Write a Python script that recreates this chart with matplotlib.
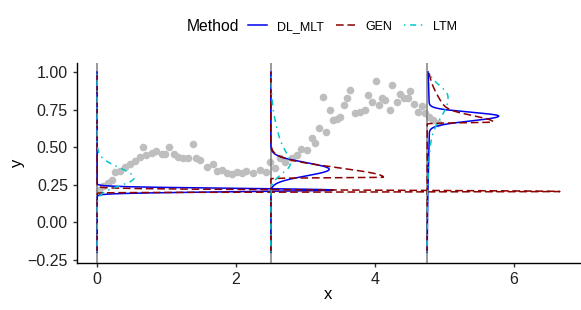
import numpy as np
import matplotlib
matplotlib.use("Agg")
import matplotlib.pyplot as plt
from matplotlib.lines import Line2D

plt.rcParams['font.family'] = ['Liberation Sans', 'DejaVu Sans']

x_pts = [0.02, 0.09, 0.16, 0.21, 0.26, 0.33, 0.40, 0.47, 0.55, 0.62, 0.66, 0.71,
         0.79, 0.85, 0.93, 0.98, 1.03, 1.10, 1.17, 1.24, 1.31, 1.38, 1.43, 1.48,
         1.58, 1.67, 1.72, 1.79, 1.87, 1.94, 2.01, 2.08, 2.14, 2.25, 2.35, 2.43,
         2.49, 2.56, 2.63, 2.70, 2.80, 2.87, 2.94, 3.02, 3.09, 3.14, 3.20, 3.25,
         3.30, 3.35, 3.40, 3.45, 3.50, 3.56, 3.59, 3.64, 3.71, 3.78, 3.85, 3.90,
         3.96, 4.01, 4.06, 4.10, 4.15, 4.22, 4.25, 4.31, 4.36, 4.41, 4.47, 4.51,
         4.56, 4.62, 4.67, 4.72, 4.77, 4.84, 4.90]
y_pts = [0.213, 0.240, 0.260, 0.285, 0.335, 0.340, 0.370, 0.390, 0.410, 0.435, 0.500, 0.447,
         0.462, 0.475, 0.453, 0.458, 0.500, 0.453, 0.435, 0.430, 0.430, 0.520, 0.425, 0.413,
         0.365, 0.387, 0.342, 0.351, 0.329, 0.320, 0.335, 0.325, 0.342, 0.325, 0.347, 0.335,
         0.400, 0.360, 0.425, 0.400, 0.425, 0.447, 0.490, 0.480, 0.560, 0.530, 0.625, 0.835,
         0.600, 0.750, 0.680, 0.685, 0.700, 0.780, 0.825, 0.880, 0.725, 0.735, 0.750, 0.847,
         0.800, 0.940, 0.780, 0.830, 0.813, 0.750, 0.913, 0.800, 0.853, 0.825, 0.825, 0.875,
         0.785, 0.735, 0.773, 0.725, 0.700, 0.680, 0.660]

# x positions where conditional densities are drawn
slice_x = [0.0, 2.5, 4.75]

methods = ['DL_MLT', 'GEN', 'LTM']

# density shapes per slice: (horizontal extent, centre, sd below, sd above)
dl_mlt_bumps = [
    [(3.40, 0.215, 0.011, 0.011)],
    [(0.84, 0.353, 0.044, 0.044)],
    [(1.00, 0.707, 0.032, 0.025), (0.03, 0.70, 0.35, 0.25)],
]
gen_bumps = [
    [(6.66, 0.205, 0.003, 0.009)],
    [(1.62, 0.300, 0.003, 0.062)],
    [(0.65, 0.667, 0.004, 0.040), (0.30, 0.667, 0.004, 0.150)],
]
ltm_bumps = [
    [(0.53, 0.295, 0.052, 0.068)],
    [(0.106, 0.39, 0.063, 0.070), (0.174, 0.39, 0.063, 0.200)],
    [(0.28, 0.84, 0.125, 0.072), (0.05, 0.70, 0.250, 0.100)],
]

colors = {'DL_MLT': '#0000EE', 'GEN': '#8B0000', 'LTM': '#00C5CD'}
dashes = {'DL_MLT': (None, None), 'GEN': (5, 2.5), 'LTM': (1, 3, 4, 3)}
bumps = {'DL_MLT': dl_mlt_bumps, 'GEN': gen_bumps, 'LTM': ltm_bumps}


def curve(y, parts):
    w = np.zeros_like(y)
    for amp, loc, sd_lo, sd_hi in parts:
        z = (y - loc) / np.where(y < loc, sd_lo, sd_hi)
        w += amp * np.exp(-0.5 * z ** 2)
    return w


fig = plt.figure(figsize=(5.81, 3.10), dpi=100)
ax = fig.add_axes([77 / 581, 1 - 262.5 / 310, 503 / 581, 199.5 / 310])

ax.scatter(x_pts, y_pts, s=30, color='#BEBEBE', linewidths=0, zorder=1)
for x0 in slice_x:
    ax.axvline(x0, color='#7F7F7F', lw=1.1, zorder=2)

yy = np.linspace(-0.2, 1.0, 2401)
for m in methods:
    for x0, parts in zip(slice_x, bumps[m]):
        ln, = ax.plot(x0 + curve(yy, parts), yy, color=colors[m], lw=1.1, zorder=3)
        if m != 'DL_MLT':
            ln.set_dashes(dashes[m])

ax.set_xlim(-0.29, 6.95)
ax.set_ylim(-0.267, 1.06)
ax.set_xticks([0, 2, 4, 6])
yt = [-0.25, 0, 0.25, 0.5, 0.75, 1.0]
ax.set_yticks(yt)
ax.set_yticklabels([f'{v:.2f}'.replace('-', '\u2212') for v in yt])
for s in ['top', 'right']:
    ax.spines[s].set_visible(False)
for s in ['left', 'bottom']:
    ax.spines[s].set_linewidth(1.0)
ax.tick_params(labelsize=11.5, length=3, width=1.0, colors='#333333', labelcolor='#222222')
ax.set_xlabel('x', fontsize=12, labelpad=0)
ax.set_ylabel('y', fontsize=12, labelpad=2)

fig.text(186.7 / 581, 1 - 26.7 / 310, 'Method', fontsize=11.3, va='center', ha='left')
handles = []
for m in methods:
    h = Line2D([], [], color=colors[m], lw=1.1)
    if m != 'DL_MLT':
        h.set_dashes(dashes[m])
    handles.append(h)
fig.legend(handles, methods, loc='center left', bbox_to_anchor=(248 / 581, 1 - 26.7 / 310),
           ncol=3, frameon=False, fontsize=9, handlelength=1.5, handletextpad=0.8,
           columnspacing=1.0, borderpad=0, borderaxespad=0)

fig.savefig('out.png', dpi=100)
